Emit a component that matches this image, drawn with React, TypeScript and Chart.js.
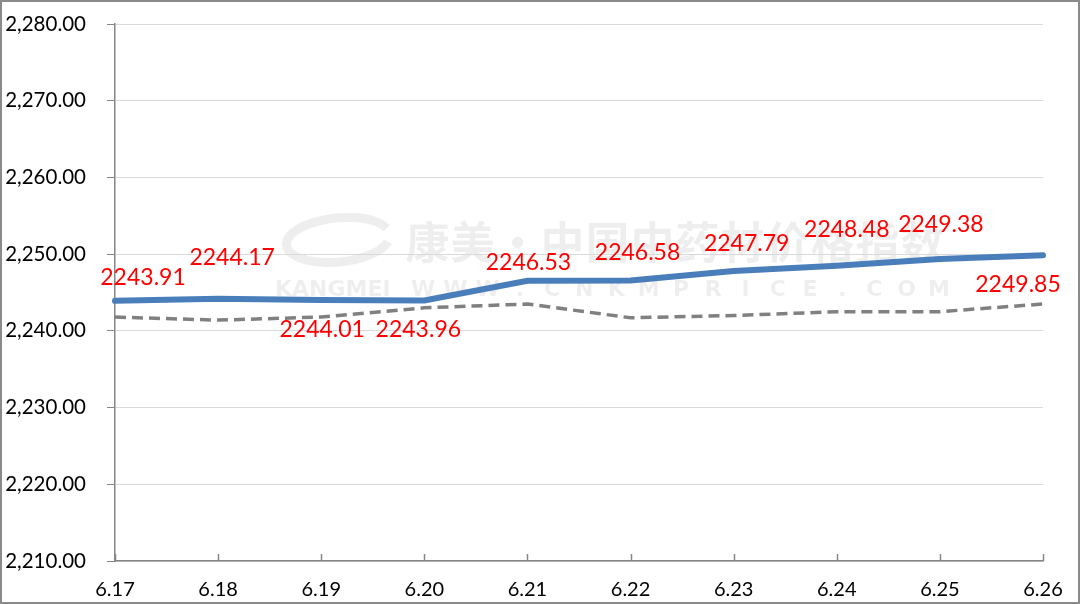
import React, { useEffect, useRef } from "react";
import { Chart, registerables } from "chart.js";

Chart.register(...registerables);

const categories = ["6.17", "6.18", "6.19", "6.20", "6.21", "6.22", "6.23", "6.24", "6.25", "6.26"];
const indexValues = [2243.91, 2244.17, 2244.01, 2243.96, 2246.53, 2246.58, 2247.79, 2248.48, 2249.38, 2249.85];
const baselineValues = [2241.8, 2241.4, 2241.8, 2243.0, 2243.5, 2241.7, 2242.0, 2242.5, 2242.5, 2243.5];
const yMin = 2210;
const yMax = 2280;
const yStep = 10;

// label placement (dx, dy) relative to each point of the main series
const labelOffsets: [number, number][] = [
  [28, -23], [14, -41], [1, 29], [-6, 29], [1, -18],
  [7, -28], [13, -28], [10, -36], [1, -34], [-25, 29],
];

const FONT = "Lato, 'Open Sans', 'DejaVu Sans', sans-serif";

const decorPlugin = {
  id: "decor",
  beforeDraw(chart: any) {
    const ctx = chart.ctx;
    ctx.save();
    ctx.fillStyle = "#ffffff";
    ctx.fillRect(0, 0, chart.width, chart.height);
    // watermark
    ctx.fillStyle = "rgba(0,0,0,0.065)";
    ctx.textBaseline = "middle";
    ctx.font = "bold 44px 'Noto Sans CJK SC', sans-serif";
    const cn = "康美·中国中药材价格指数";
    const cw = 540 / cn.length;
    for (let i = 0; i < cn.length; i++) {
      ctx.textAlign = "center";
      ctx.fillText(cn[i], 405 + cw * i + cw / 2, 242);
    }
    ctx.font = "bold 22px 'DejaVu Sans', sans-serif";
    ctx.textAlign = "left";
    ctx.fillText("KANGMEI", 275, 290);
    const en = "WWW.CNKMPRICE.COM";
    const ew = 548 / en.length;
    for (let i = 0; i < en.length; i++) {
      ctx.textAlign = "center";
      ctx.fillText(en[i], 407 + ew * i + ew / 2, 290);
    }
    // logo swoosh
    ctx.strokeStyle = "rgba(0,0,0,0.065)";
    ctx.lineWidth = 9;
    ctx.beginPath();
    ctx.ellipse(338, 240, 52, 22, -0.1, 0.3, Math.PI * 1.9);
    ctx.stroke();
    ctx.restore();
  },
  afterDraw(chart: any) {
    const ctx = chart.ctx;
    const xs = chart.scales.x;
    const bottom = chart.chartArea.bottom;
    ctx.save();
    ctx.strokeStyle = "#868686";
    ctx.lineWidth = 1.5;
    for (let i = 0; i < categories.length; i++) {
      const x = Math.round(xs.getPixelForTick(i)) + 0.5;
      ctx.beginPath();
      ctx.moveTo(x, bottom);
      ctx.lineTo(x, bottom - 7);
      ctx.stroke();
    }
    // outer border
    ctx.strokeStyle = "#8a8a8a";
    ctx.lineWidth = 2;
    ctx.strokeRect(1, 1, chart.width - 2, chart.height - 2);
    ctx.restore();
  },
  afterDatasetsDraw(chart: any) {
    const ctx = chart.ctx;
    const meta = chart.getDatasetMeta(0);
    ctx.save();
    ctx.fillStyle = "#ff0000";
    ctx.font = `23px ${FONT}`;
    ctx.textAlign = "center";
    ctx.textBaseline = "middle";
    meta.data.forEach((pt: any, i: number) => {
      const [dx, dy] = labelOffsets[i];
      ctx.fillText(indexValues[i].toFixed(2), pt.x + dx, pt.y + dy);
    });
    ctx.restore();
  },
};

export default function App() {
  const ref = useRef<HTMLCanvasElement>(null);
  useEffect(() => {
    document.body.style.margin = "0";
    const chart = new Chart(ref.current!, {
      type: "line",
      data: {
        labels: categories,
        datasets: [
          {
            data: indexValues,
            borderColor: "#4A7EBB",
            borderWidth: 6,
            pointRadius: 0,
            tension: 0,
            fill: false,
            borderCapStyle: "round",
            order: 0,
          },
          {
            data: baselineValues,
            borderColor: "#808080",
            borderWidth: 3.5,
            borderDash: [11, 6],
            pointRadius: 0,
            tension: 0,
            fill: false,
            order: 1,
          },
        ],
      },
      options: {
        responsive: false,
        animation: false,
        layout: { autoPadding: false, padding: { left: 0, right: 37, top: 24, bottom: 0 } },
        plugins: { legend: { display: false }, tooltip: { enabled: false } },
        scales: {
          x: {
            offset: false,
            grid: { display: false },
            border: { color: "#868686", width: 1.5 },
            ticks: {
              color: "#000",
              font: { family: FONT, size: 20 },
              padding: 9,
              autoSkip: false,
              maxRotation: 0,
            },
            afterFit: (s: any) => {
              s.height = 43;
              s.paddingLeft = 0;
              s.paddingRight = 0;
            },
          },
          y: {
            min: yMin,
            max: yMax,
            grid: { color: "#d9d9d9", lineWidth: 1, tickLength: 8, tickColor: "#868686" },
            border: { color: "#868686", width: 1.5 },
            ticks: {
              stepSize: yStep,
              color: "#000",
              font: { family: FONT, size: 20.5 },
              padding: 21,
              callback: (v: any) =>
                Number(v).toLocaleString("en-US", { minimumFractionDigits: 2, maximumFractionDigits: 2 }),
            },
            afterFit: (s: any) => {
              s.width = 115;
              s.paddingTop = 0;
              s.paddingBottom = 0;
            },
          },
        },
      },
      plugins: [decorPlugin],
    });
    return () => chart.destroy();
  }, []);
  return (
    <div style={{ position: "fixed", left: 0, top: 0, width: 1080, height: 604 }}>
      <canvas ref={ref} width={1080} height={604} style={{ display: "block" }} />
    </div>
  );
}
